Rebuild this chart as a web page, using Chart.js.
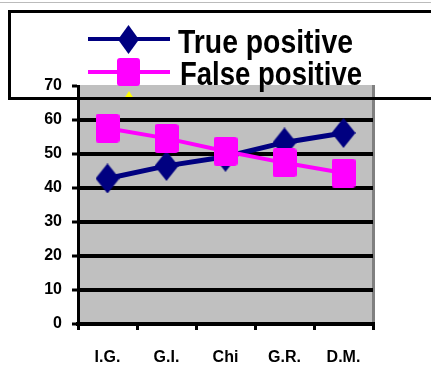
<!DOCTYPE html>
<html>
<head>
<meta charset="utf-8">
<script src="https://cdn.jsdelivr.net/npm/chart.js@4"></script>
<style>
  html, body { margin: 0; padding: 0; background: #fff; }
  #wrap { width: 431px; height: 369px; position: relative; }
</style>
</head>
<body>
<div id="wrap"><canvas id="grafico"></canvas></div>
<script>
// dados
const categorias = ['I.G.', 'G.I.', 'Chi', 'G.R.', 'D.M.'];
const verdadeiroPositivo = [42.8, 46.5, 49.2, 53.4, 56.2];
const falsoPositivo = [57.6, 54.6, 50.8, 47.4, 44.4];
const ticksY = [0, 10, 20, 30, 40, 50, 60, 70];
const nomesSeries = ['True positive', 'False positive'];

const AZUL = '#000080';
const ROSA = '#FF00FF';
const AMARELO = '#FFFF00';

// marcadores desenhados num canvas (losango e quadrado esticados)
function losango(w, h, cor) {
  const c = document.createElement('canvas');
  c.width = w; c.height = h;
  const g = c.getContext('2d');
  g.fillStyle = cor;
  g.beginPath();
  g.moveTo(w / 2, 0);
  g.lineTo(w, h / 2);
  g.lineTo(w / 2, h);
  g.lineTo(0, h / 2);
  g.closePath();
  g.fill();
  return c;
}

function quadrado(w, h, cor) {
  const c = document.createElement('canvas');
  c.width = w; c.height = h;
  const g = c.getContext('2d');
  g.fillStyle = cor;
  g.beginPath();
  g.roundRect(0, 0, w, h, 3);
  g.fill();
  return c;
}

const fundoCinza = {
  id: 'fundoCinza',
  beforeDraw(chart) {
    const a = chart.chartArea;
    const ctx = chart.ctx;
    ctx.save();
    ctx.fillStyle = '#C0C0C0';
    ctx.fillRect(a.left, a.top - 1, a.right - a.left, a.bottom - a.top + 1);
    ctx.fillStyle = '#808080';
    ctx.fillRect(a.right - 1, a.top - 1, 3, a.bottom - a.top + 1);
    ctx.restore();
  }
};

const legenda = {
  id: 'legendaCaixa',
  afterDraw(chart) {
    const ctx = chart.ctx;
    ctx.save();
    // linha cinza fina no topo
    ctx.fillStyle = '#BBBBBB';
    ctx.fillRect(0, 2, 431, 1);

    // terceira entrada (triângulo amarelo) cortada pela caixa
    ctx.save();
    ctx.beginPath();
    ctx.rect(0, 0, 431, 99);
    ctx.clip();
    ctx.fillStyle = AMARELO;
    ctx.beginPath();
    ctx.moveTo(129, 91);
    ctx.lineTo(140, 108);
    ctx.lineTo(118, 108);
    ctx.closePath();
    ctx.fill();
    ctx.restore();

    // entrada 1
    ctx.strokeStyle = AZUL;
    ctx.lineWidth = 4;
    ctx.beginPath();
    ctx.moveTo(88, 39); ctx.lineTo(170, 39);
    ctx.stroke();
    ctx.drawImage(losango(21, 29, AZUL), 118, 25);

    // entrada 2
    ctx.strokeStyle = ROSA;
    ctx.lineWidth = 4;
    ctx.beginPath();
    ctx.moveTo(88, 72); ctx.lineTo(170, 72);
    ctx.stroke();
    ctx.drawImage(quadrado(23, 28, ROSA), 117, 58);

    ctx.fillStyle = '#000';
    ctx.font = 'bold 33px "Liberation Sans", Arial, sans-serif';
    ctx.textBaseline = 'alphabetic';
    ctx.fillText(nomesSeries[0], 178, 53, 175);
    ctx.fillText(nomesSeries[1], 180, 85, 182);

    // caixa da legenda
    ctx.strokeStyle = '#000';
    ctx.lineWidth = 3;
    ctx.beginPath();
    ctx.moveTo(440, 11.5);
    ctx.lineTo(9.5, 11.5);
    ctx.lineTo(9.5, 98.5);
    ctx.lineTo(440, 98.5);
    ctx.stroke();
    ctx.restore();
  }
};

const ctx = document.getElementById('grafico').getContext('2d');
const grafico = new Chart(ctx, {
  type: 'line',
  data: {
    labels: categorias,
    datasets: [
      {
        label: nomesSeries[0],
        data: verdadeiroPositivo,
        borderColor: AZUL,
        backgroundColor: AZUL,
        borderWidth: 5,
        pointStyle: losango(24, 30, AZUL),
        tension: 0,
        order: 1
      },
      {
        label: nomesSeries[1],
        data: falsoPositivo,
        borderColor: ROSA,
        backgroundColor: ROSA,
        borderWidth: 4,
        pointStyle: quadrado(24, 29, ROSA),
        tension: 0,
        order: 0
      }
    ]
  },
  options: {
    responsive: true,
    maintainAspectRatio: false,
    animation: false,
    layout: { padding: { left: 0, right: 58, top: 86, bottom: 0 } },
    plugins: {
      legend: { display: false },
      tooltip: { enabled: false }
    },
    scales: {
      x: {
        offset: true,
        grid: {
          offset: true,
          drawOnChartArea: false,
          drawTicks: true,
          tickLength: 6,
          color: '#000',
          lineWidth: 3
        },
        border: { color: '#000', width: 4 },
        ticks: {
          color: '#000',
          padding: 18,
          maxRotation: 0,
          font: { family: '"Liberation Sans", Arial, sans-serif', size: 16, weight: 'bold' }
        },
        afterFit(scale) { scale.height = 45; }
      },
      y: {
        min: 0,
        max: 70,
        afterBuildTicks(scale) { scale.ticks = ticksY.map(v => ({ value: v })); },
        grid: {
          color: c => (c.tick && c.tick.value === 70) ? 'rgba(0,0,0,0)' : '#000',
          lineWidth: 4,
          tickLength: 6,
          tickColor: '#000',
          tickWidth: 3
        },
        border: { color: '#000', width: 3 },
        ticks: {
          color: '#000',
          padding: 10,
          font: { family: '"Liberation Sans", Arial, sans-serif', size: 16, weight: 'bold' }
        },
        afterFit(scale) { scale.width = 78; }
      }
    }
  },
  plugins: [fundoCinza, legenda]
});
</script>
</body>
</html>
